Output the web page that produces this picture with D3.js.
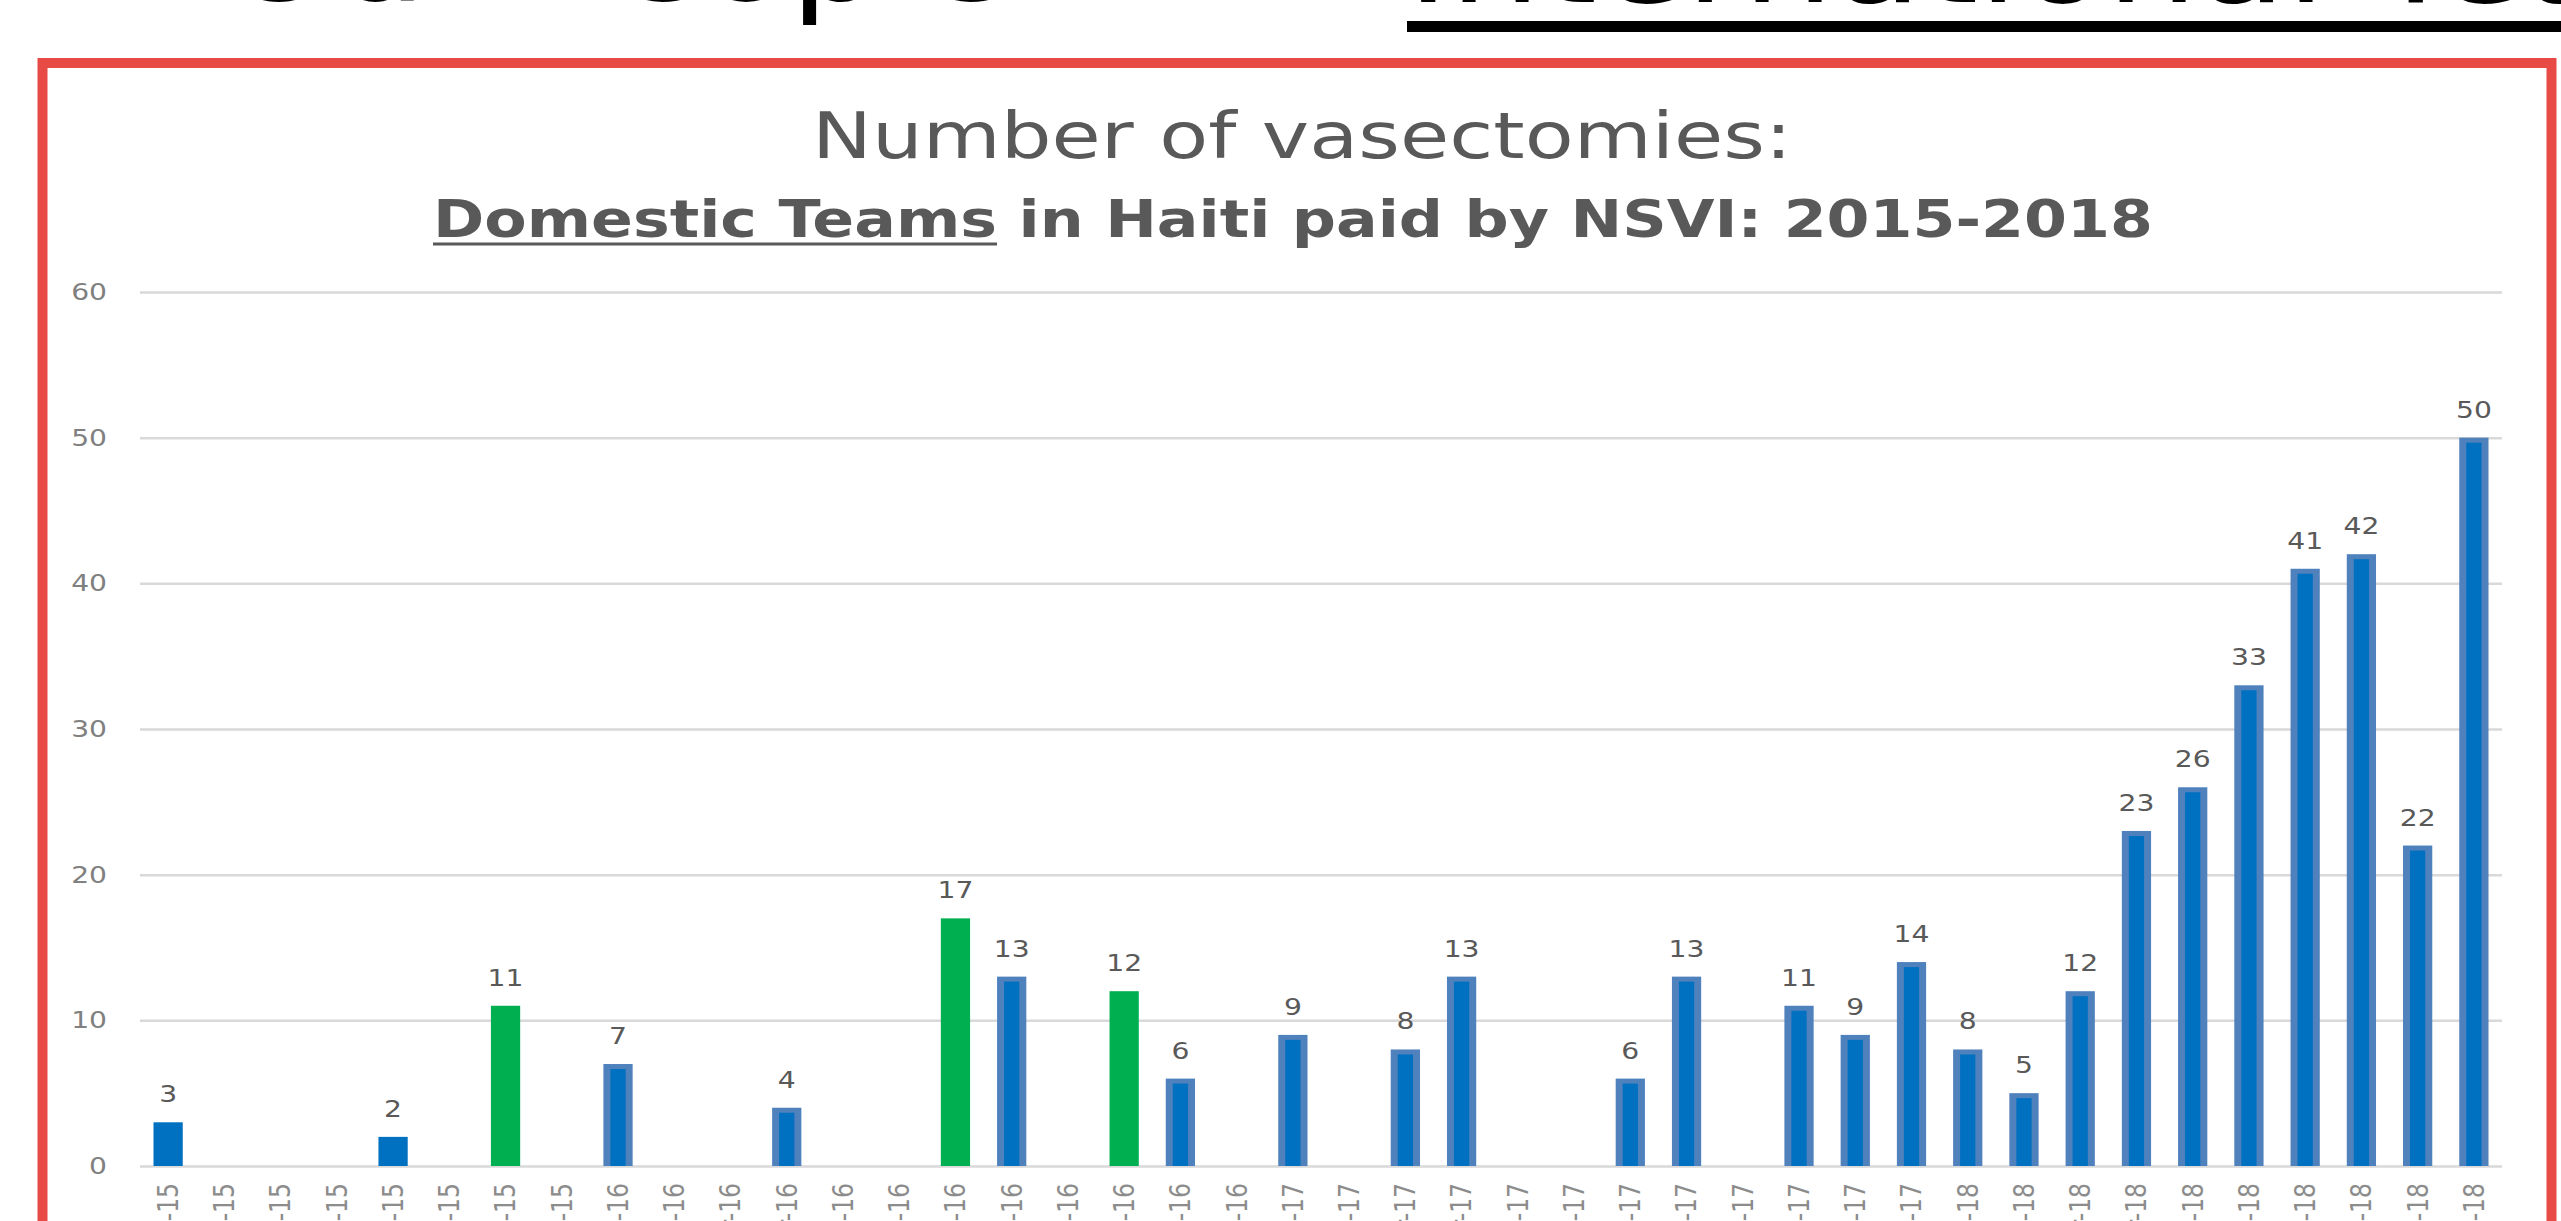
<!DOCTYPE html>
<html>
<head>
<meta charset="utf-8">
<script src="https://cdn.jsdelivr.net/npm/d3@7"></script>
<style>
html,body{margin:0;padding:0;background:#fff;overflow:hidden}
svg{display:block}
</style>
</head>
<body>
<svg id="chart" width="2561" height="1221"></svg>
<script>
// ---------------- data ----------------
const categories = [
  "May-15","Jun-15","Jul-15","Aug-15","Sep-15","Oct-15","Nov-15","Dec-15",
  "Jan-16","Feb-16","Mar-16","Apr-16","May-16","Jun-16","Jul-16","Aug-16","Sep-16","Oct-16","Nov-16","Dec-16",
  "Jan-17","Feb-17","Mar-17","Apr-17","May-17","Jun-17","Jul-17","Aug-17","Sep-17","Oct-17","Nov-17","Dec-17",
  "Jan-18","Feb-18","Mar-18","Apr-18","May-18","Jun-18","Jul-18","Aug-18","Sep-18","Oct-18"
];
const values = [
  3, null, null, null, 2, null, 11, null,
  7, null, null, 4, null, null, 17, 13, null, 12, 6, null,
  9, null, 8, 13, null, null, 6, 13, null, 11, 9, 14,
  8, 5, 12, 23, 26, 33, 41, 42, 22, 50
];
const greenMonths = ["Nov-15", "Jul-16", "Oct-16"];
const plainMonths = ["May-15", "Sep-15"];
const yTicks = [0, 10, 20, 30, 40, 50, 60];
const titleLine1 = "Number of vasectomies:";
const subtitleUnderlined = "Domestic Teams";
const subtitleRest = " in Haiti paid by NSVI: 2015-2018";
const headerLeft = "Our People";
const headerRight = "International Teams";

// ---------------- drawing ----------------
const svg = d3.select("#chart");
const FONT = "'DejaVu Sans', Verdana, sans-serif";
const SX = 1.2; // horizontal stretch of the source picture

// slide header (mostly cropped off the top)
svg.append("g").attr("transform", `translate(1010,0) scale(${SX},1)`)
  .append("text").attr("text-anchor", "end")
  .attr("font-family", FONT).attr("font-size", 120).attr("fill", "#000")
  .text(headerLeft);
svg.append("g").attr("transform", `translate(1407,2) scale(${SX},1)`)
  .append("text").attr("text-anchor", "start")
  .attr("font-family", FONT).attr("font-size", 120).attr("fill", "#000")
  .text(headerRight);
svg.append("rect").attr("x", 1407).attr("y", 21).attr("width", 1300).attr("height", 11).attr("fill", "#000");

// red frame
svg.append("rect").attr("x", 42.5).attr("y", 63).attr("width", 2509).attr("height", 1400)
  .attr("fill", "none").attr("stroke", "#E84A45").attr("stroke-width", 10);

// titles
svg.append("text").attr("x", 812).attr("y", 158)
  .attr("font-family", FONT).attr("font-size", 64).attr("fill", "#595959")
  .attr("textLength", 980).attr("lengthAdjust", "spacingAndGlyphs")
  .text(titleLine1);
const sub = svg.append("text").attr("x", 433).attr("y", 237)
  .attr("font-family", FONT).attr("font-size", 52).attr("font-weight", "bold").attr("fill", "#595959")
  .attr("textLength", 1720).attr("lengthAdjust", "spacingAndGlyphs");
sub.append("tspan").text(subtitleUnderlined);
sub.append("tspan").text(subtitleRest);
{
  const n = sub.node();
  const x0 = n.getStartPositionOfChar(0).x;
  const x1 = n.getEndPositionOfChar(subtitleUnderlined.length - 1).x;
  svg.append("rect").attr("x", x0).attr("y", 242.5).attr("width", x1 - x0).attr("height", 3).attr("fill", "#595959");
}

// scales
const x = d3.scaleBand().domain(categories).range([140, 2502]).paddingInner(0.48).paddingOuter(0.24);
const y = d3.scaleLinear().domain([0, 60]).range([1166, 292]);

// y axis + gridlines
const ya = svg.append("g").attr("transform", "translate(140,0)")
  .call(d3.axisLeft(y).tickValues(yTicks).tickSize(-(2502 - 140)).tickPadding(33));
ya.select(".domain").remove();
ya.selectAll(".tick line").attr("stroke", "#D9D9D9").attr("stroke-width", 2.5);
ya.selectAll(".tick text")
  .attr("font-family", FONT).attr("font-size", 23.5).attr("fill", "#808080")
  .attr("x", -33 / SX).attr("transform", `scale(${SX},1)`);

// x axis
const xa = svg.append("g").attr("transform", `translate(0,${y(0)})`)
  .call(d3.axisBottom(x).tickSize(0));
xa.select(".domain").remove();
xa.selectAll(".tick text")
  .attr("font-family", FONT).attr("font-size", 23.5).attr("fill", "#8C8C8C")
  .attr("text-anchor", "end")
  .attr("x", -17).attr("y", 0).attr("dy", "0.35em")
  .attr("transform", `scale(${SX},1) rotate(-90)`);

// bars
const data = categories.map((c, i) => ({ c, v: values[i] })).filter(d => d.v !== null);
const bw = x.bandwidth();
const bars = svg.append("g");
data.forEach(d => {
  const x0 = x(d.c), top = y(d.v), h = y(0) - y(d.v);
  if (greenMonths.includes(d.c)) {
    bars.append("rect").attr("x", x0).attr("y", top).attr("width", bw).attr("height", h).attr("fill", "#00B050");
  } else if (plainMonths.includes(d.c)) {
    bars.append("rect").attr("x", x0).attr("y", top).attr("width", bw).attr("height", h).attr("fill", "#0070C0");
  } else {
    bars.append("rect").attr("x", x0).attr("y", top).attr("width", bw).attr("height", h).attr("fill", "#4F81BD");
    bars.append("rect").attr("x", x0 + 7).attr("y", top + 5).attr("width", bw - 14).attr("height", Math.max(0, h - 5)).attr("fill", "#0070C0");
  }
});

// value labels
const labels = svg.append("g");
data.forEach(d => {
  labels.append("g").attr("transform", `translate(${x(d.c) + bw / 2},${y(d.v) - 20}) scale(${SX},1)`)
    .append("text").attr("text-anchor", "middle")
    .attr("font-family", FONT).attr("font-size", 23.5).attr("fill", "#595959")
    .text(d.v);
});
</script>
</body>
</html>
